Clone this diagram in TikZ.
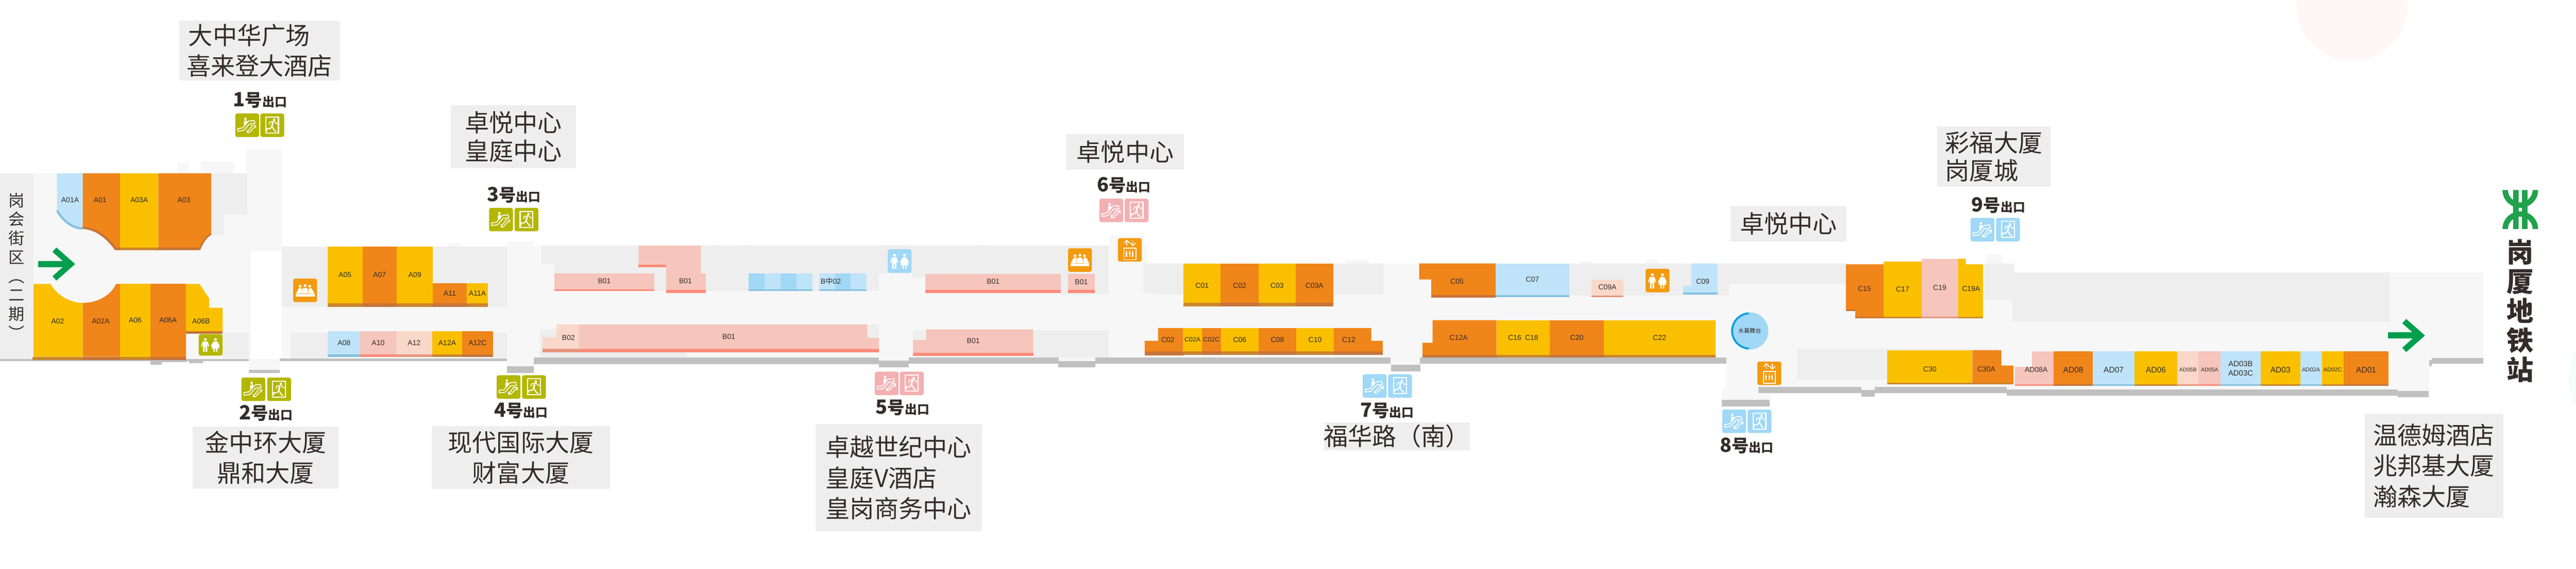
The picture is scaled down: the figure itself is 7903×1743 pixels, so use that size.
\documentclass[tikz,border=0pt]{standalone}
\usepackage{fontspec}
\setmainfont{Noto Sans CJK SC}
\newfontfamily\latinfont{Liberation Sans}
\newfontfamily\heavyfont{Noto Sans CJK SC Black}
\usetikzlibrary{calc}

\definecolor{inkdark}{HTML}{332C2B}
\definecolor{hallgrey}{HTML}{F7F7F7}
\definecolor{zonegrey}{HTML}{EEEEEE}
\definecolor{wallgrey}{HTML}{BFC0BF}
\definecolor{shoporange}{HTML}{F0851A}
\definecolor{shopyellow}{HTML}{FAC000}
\definecolor{shopblue}{HTML}{BFE4F9}
\definecolor{shopmid}{HTML}{A0D8F6}
\definecolor{shoppink}{HTML}{F6C5BC}
\definecolor{shoplight}{HTML}{FAD8C9}
\definecolor{striporange}{HTML}{C6743A}
\definecolor{stripyellow}{HTML}{C9862F}
\definecolor{stripblue}{HTML}{85C2DF}
\definecolor{strippink}{HTML}{FD8A78}
\definecolor{striplight}{HTML}{E8957F}
\definecolor{icongreen}{HTML}{B3B700}
\definecolor{iconpink}{HTML}{F3B0B2}
\definecolor{iconblue}{HTML}{A0D8F6}
\definecolor{iconorange}{HTML}{F39A0F}
\definecolor{arrowgreen}{HTML}{009F4D}
\definecolor{logogreen}{HTML}{22A14D}
\definecolor{ringblue}{HTML}{0FA0E0}

\tikzset{
    glyphline/.style={white, line width=0.026cm, line join=round},
    pics/esc glyph/.style={code={
        \fill[white] (32,17) circle[radius=3.8];
        \fill[white] (28,23) -- (36,22) -- (37,32) -- (31,38) -- (27,33) -- cycle;
        \draw[glyphline] (8,47) -- (23,45) -- (41,24) -- (59,22) -- (61,32) -- (44,33) -- (26,53) -- (9,55) -- cycle;
        \draw[glyphline] (54,36) -- (37,59);
        \draw[glyphline] (37,50) -- (37,59) -- (46,59);
        \draw[glyphline] (46,57) -- (64,38);
        \draw[glyphline] (55,38) -- (64,38) -- (64,47);
    }},
    pics/door glyph/.style={code={
        \draw[white, line width=0.036cm] (17.5,11.5) rectangle (56.5,60.5);
        \fill[white] (43,20) circle[radius=3.8];
        \draw[glyphline] (28,35) -- (30,27) -- (43,25) -- (51,32) -- (56,32);
        \draw[white, line width=0.05cm] (39,27) -- (36,42);
        \draw[glyphline, line width=0.034cm] (36,41) -- (46,55) -- (50,55);
        \draw[glyphline, line width=0.034cm] (35,42) -- (31,47) -- (21,47);
        \fill[white] (18,47) -- (24,47) -- (22,54) -- (18,54) -- cycle;
    }},
    pics/toilet glyph/.style={code={
        \fill[white] (21,19) circle[radius=4.6];
        \fill[white] (13,26) -- (28,26) -- (33,42) -- (30,43) -- (27,34) -- (27,61) -- (22,61) -- (22,45) -- (19,45) -- (19,61) -- (14,61) -- (14,34) -- (11,43) -- (8,42) -- cycle;
        \fill[white] (52,19) circle[radius=4.6];
        \fill[white] (46,26) -- (58,26) -- (66,42) -- (63,43) -- (59,33) -- (64,50) -- (58,50) -- (58,61) -- (54,61) -- (54,50) -- (50,50) -- (50,61) -- (46,61) -- (46,50) -- (40,50) -- (45,33) -- (41,43) -- (38,42) -- cycle;
    }},
    pics/wait glyph/.style={code={
        \fill[white] (9,48) rectangle (66,56);
        \fill[white] (22,24) circle[radius=4.4] (37,22) circle[radius=4.4] (51,24) circle[radius=4.4];
        \fill[white] (9,47) -- (17,31) -- (27,30) -- (30,47) -- cycle;
        \fill[white] (46,47) -- (48,31) -- (57,30) -- (66,47) -- cycle;
        \fill[white, draw=iconorange, line width=0.008cm] (25,47) -- (30,29) -- (44,29) -- (49,47) -- cycle;
    }},
    pics/lift glyph/.style={code={
        \draw[glyphline] (19,31) rectangle (56,67);
        \foreach \px in {27,37,46} {
            \fill[white] (\px,40) circle[radius=1.9];
            \fill[white] (\px-2.5,43) rectangle (\px+2.5,50);
            \fill[white] (\px-2,50) rectangle (\px+2,58);
        }
        \draw[glyphline] (28,24) -- (28,7);
        \draw[glyphline] (20,16) -- (28,7) -- (36,16);
        \draw[glyphline] (46,7) -- (46,24);
        \draw[glyphline] (38,15) -- (46,24) -- (55,15);
    }},
    pics/way arrow/.style={code={
        \draw[arrowgreen, line width=0.19cm] (0,0) -- (96,0);
        \draw[arrowgreen, line width=0.18cm, miter limit=4] (50,-44) -- (100,0) -- (50,44);
    }}
}

% shop block: name, left, top, right, bottom, strip end, kind, text
\newcommand{\shoprect}[9][]{
    \fill[#8 strip] (#3,#6) rectangle (#5,#7);
    \fill[#8 shop] (#3,#4) rectangle (#5,#6);
    \node[shoplabel, #1] (#2) at ({(#3+#5)/2},{(#4+#6)/2}) {#9};
}

\begin{document}
\begin{tikzpicture}[
    x=0.01cm, y=-0.01cm,
    % Styles
    orange shop/.style={fill=shoporange},
    yellow shop/.style={fill=shopyellow},
    blue shop/.style={fill=shopblue},
    mid shop/.style={fill=shopmid},
    pink shop/.style={fill=shoppink},
    light shop/.style={fill=shoplight},
    orange strip/.style={fill=striporange},
    yellow strip/.style={fill=stripyellow},
    blue strip/.style={fill=stripblue},
    mid strip/.style={fill=stripblue},
    pink strip/.style={fill=strippink},
    light strip/.style={fill=striplight},
    shoplabel/.style={font=\latinfont\fontsize{6.3}{7.6}\selectfont, text=inkdark, inner sep=0pt, align=center},
    placebox/.style={fill=zonegrey, text=inkdark, inner sep=0pt, font=\fontsize{21.2}{26.7}\selectfont},
    tightbox/.style={placebox, font=\fontsize{21.2}{24.3}\selectfont},
    iconbox/.style={anchor=north west, minimum width=0.73cm, minimum height=0.72cm, inner sep=0pt, rounded corners=0.06cm},
    exitlabel/.style={text=inkdark, inner sep=0pt, font=\bfseries\fontsize{15}{15}\selectfont}
]
    \useasboundingbox (0,0) rectangle (7903,1743);

    % Faint circles at the edge
    \fill[red!3] (7216,15) circle[radius=171];
    \fill[cyan!4] (8050,1160) circle[radius=170];

    % Walkable floor
    \foreach \xa/\ya/\xb/\yb in {102/531/770/1100, 756/458/865/770, 865/756/1555/1100, 764/1100/858/1134,
        1555/739/1638/1122, 1638/753/3404/1096, 3404/723/3511/1096, 3511/753/3518/807, 3508/807/5296/1096,
        2697/1096/2788/1105, 3247/1096/3360/1106, 4266/1095/4356/1118,
        5296/808/6180/1195, 6180/834/7452/1198, 7452/834/7619/1097, 5283/1187/5430/1225,
        543/500/579/531, 617/495/717/531, 1372/745/1411/755, 2184/749/2223/753, 2274/749/2302/753,
        2705/749/2744/753, 2747/749/2791/753, 2988/749/3026/753, 4125/796/4199/808,
        4845/801/4884/808, 5047/795/5089/808, 6091/779/6142/808}
        \fill[hallgrey] (\xa,\ya) rectangle (\xb,\yb);

    % Side zones
    \foreach \xa/\ya/\xb/\yb in {0/531/102/1100, 648/531/759/658, 648/658/687/720, 865/756/1555/940,
        683/1019/764/1098, 891/1020/1006/1098, 1512/1019/1555/1097,
        1661/753/1700/809, 1700/753/2697/891, 2697/753/2839/838, 2798/838/2839/850, 2839/753/3255/891, 3255/753/3402/902,
        1657/1009/2109/1095, 2661/994/2697/1035, 2801/1012/2841/1042, 3170/1012/3401/1095,
        3508/807/3631/897, 3544/897/3631/902, 4090/807/4246/902, 4814/808/5305/906,
        5269/808/5663/869, 5513/1068/6132/1164,
        6087/808/6180/919, 6174/834/7332/984}
        \fill[zonegrey] (\xa,\ya) rectangle (\xb,\yb);

    % Walls along the bottom edge
    \foreach \xa/\ya/\xb/\yb in {0/1100/764/1106, 858/1098/1555/1106, 764/1134/858/1143, 462/1106/497/1117, 497/1103/572/1110, 580/1100/623/1112,
        1555/1122/1638/1142, 1638/1096/2697/1116, 2697/1105/2788/1126, 2788/1096/3248/1115, 3247/1106/3360/1126, 3360/1095/4266/1115,
        4267/1118/4357/1138, 4356/1095/5296/1114, 5283/1225/5430/1245, 5395/1185/5710/1204, 5710/1195/5751/1215,
        5751/1185/6156/1204, 6156/1193/7356/1213, 7356/1198/7451/1217, 7452/1104/7460/1123, 7460/1097/7618/1115}
        \fill[wallgrey] (\xa,\ya) rectangle (\xb,\yb);

    % A shops, upper block
    \fill[blue shop] (175,531) -- (254,531) -- (254,700) .. controls (225,700) and (195,680) .. (175,645) -- cycle;
    \draw[stripblue, line width=0.07cm] (175,645) .. controls (195,680) and (225,700) .. (254,700);
    \node[shoplabel] (A01A) at (215,613) {A01A};
    \fill[orange shop] (254,531) -- (368,531) -- (368,767) -- (356,765) .. controls (335,735) and (300,700) .. (254,698) -- cycle;
    \draw[striporange, line width=0.07cm] (356,765) .. controls (335,735) and (300,700) .. (254,698);
    \node[shoplabel] (A01) at (307,613) {A01};
    \fill[orange strip] (356,758) rectangle (368,767);
    \shoprect[yshift=0.32cm]{A03Aa}{368}{531}{486}{758}{767}{yellow}{A03A}
    \fill[orange shop] (486,531) -- (648,531) -- (648,717) .. controls (632,725) and (620,745) .. (612,765) -- (486,767) -- cycle;
    \draw[striporange, line width=0.05cm] (648,717) .. controls (632,725) and (620,745) .. (612,765);
    \fill[orange strip] (486,758) rectangle (612,767);
    \node[shoplabel] (A03) at (564,613) {A03};

    % A shops, lower block
    \fill[yellow strip] (100,1093) rectangle (254,1103);
    \fill[yellow shop] (103,870) -- (155,870) .. controls (175,905) and (215,928) .. (254,928) -- (254,1093) -- (103,1093) -- cycle;
    \node[shoplabel] (A02) at (177,984) {A02};
    \fill[orange strip] (254,1093) rectangle (369,1103);
    \fill[orange shop] (254,928) .. controls (300,928) and (340,905) .. (356,870) -- (369,870) -- (369,1093) -- (254,1093) -- cycle;
    \node[shoplabel] (A02A) at (309,984) {A02A};
    \shoprect{A06}{369}{870}{461}{1093}{1103}{yellow}{A06}
    \shoprect{A06A}{461}{870}{570}{1093}{1103}{orange}{A06A}
    \fill[orange strip] (570,1015) rectangle (683,1023);
    \fill[yellow shop] (570,870) -- (612,870) -- (642,915) -- (642,943) -- (683,943) -- (683,1015) -- (570,1015) -- cycle;
    \node[shoplabel] (A06B) at (617,984) {A06B};

    % A shops, after exit 1 and 2
    \foreach \n/\xa/\ya/\xb/\kind in {A05/1005/755/1112/yellow, A07/1112/755/1217/orange, A09/1217/755/1328/yellow, A11/1328/867/1432/orange, A11A/1432/867/1497/yellow}
        \shoprect{\n}{\xa}{\ya}{\xb}{930}{940}{\kind}{\n};
    \foreach \n/\xa/\xb/\kind in {A08/1006/1105/blue, A10/1105/1215/pink, A12/1215/1326/light, A12A/1326/1418/yellow, A12C/1418/1512/orange}
        \shoprect{\n}{\xa}{1015}{\xb}{1086}{1093}{\kind}{\n};

    % B shops
    \shoprect{B01a}{1700}{837}{2008}{886}{892}{pink}{B01}
    \fill[pink strip] (1959,811) rectangle (2044,819);
    \fill[pink strip] (2044,888) rectangle (2165,898);
    \fill[pink shop] (1959,752) -- (2150,752) -- (2150,838) -- (2165,838) -- (2165,888) -- (2044,888) -- (2044,811) -- (1959,811) -- cycle;
    \node[shoplabel] (B01b) at (2103,861) {B01};
    \foreach \n/\xa/\xb/\kind in {m1/2297/2345/mid, m2/2345/2394/blue, m3/2394/2443/mid, m4/2443/2492/blue, m5/2513/2562/blue, m6/2562/2610/mid, m7/2610/2659/blue}
        \shoprect{\n}{\xa}{837}{\xb}{886}{891}{\kind}{};
    \node[shoplabel] (Bmid) at (2549,862) {B{\rmfamily 中}02};
    \shoprect[xshift=0cm]{B01c}{2839}{839}{3255}{888}{898}{pink}{}
    \node[shoplabel] (B01d) at (3047,862) {B01};
    \shoprect{B01e}{3276}{839}{3359}{888}{898}{pink}{B01}
    \fill[light strip] (1664,1068) rectangle (1776,1079);
    \fill[light shop] (1664,1034) -- (1707,1034) -- (1707,994) -- (1776,994) -- (1776,1068) -- (1664,1068) -- cycle;
    \node[shoplabel] (B02) at (1744,1035) {B02};
    \fill[pink strip] (1776,1069) rectangle (2697,1079);
    \fill[pink shop] (1776,994) -- (2661,994) -- (2661,1035) -- (2697,1035) -- (2697,1069) -- (1776,1069) -- cycle;
    \node[shoplabel] (B01f) at (2236,1031) {B01};
    \fill[pink strip] (2801,1081) rectangle (3170,1091);
    \fill[pink shop] (2801,1042) -- (2841,1042) -- (2841,1009) -- (3170,1009) -- (3170,1081) -- (2801,1081) -- cycle;
    \node[shoplabel] (B01g) at (2986,1044) {B01};

    % C shops, first stretch
    \foreach \n/\xa/\xb/\kind in {C01/3631/3745/yellow, C02/3745/3861/orange, C03/3861/3975/yellow, C03A/3975/4090/orange}
        \shoprect[yshift=-0.07cm]{\n}{\xa}{808}{\xb}{928}{939}{\kind}{\n};
    \fill[orange strip] (3512,1077) rectangle (3630,1089);
    \fill[orange shop] (3512,1044) -- (3553,1044) -- (3553,1005) -- (3630,1005) -- (3630,1077) -- (3512,1077) -- cycle;
    \node[shoplabel] (C02b) at (3583,1041) {C02};
    \shoprect[font=\latinfont\fontsize{5.6}{7}\selectfont]{C02A}{3630}{1005}{3687}{1077}{1088}{yellow}{C02A}
    \shoprect[font=\latinfont\fontsize{5.6}{7}\selectfont]{C02C}{3687}{1005}{3746}{1077}{1088}{orange}{C02C}
    \foreach \n/\xa/\xb/\kind in {C06/3746/3861/yellow, C08/3861/3977/orange, C10/3977/4092/yellow}
        \shoprect{\n}{\xa}{1005}{\xb}{1077}{1088}{\kind}{\n};
    \fill[orange strip] (4092,1077) rectangle (4242,1088);
    \fill[orange shop] (4092,1005) -- (4207,1005) -- (4207,1044) -- (4242,1044) -- (4242,1077) -- (4092,1077) -- cycle;
    \node[shoplabel] (C12) at (4138,1041) {C12};

    % C shops, second stretch
    \fill[orange strip] (4391,904) rectangle (4589,912);
    \fill[orange shop] (4354,807) -- (4589,807) -- (4589,904) -- (4391,904) -- (4391,856) -- (4354,856) -- cycle;
    \node[shoplabel] (C05) at (4470,862) {C05};
    \shoprect{C07}{4589}{808}{4814}{904}{911}{blue}{C07}
    \shoprect{C09A}{4883}{856}{4980}{905}{911}{light}{C09A}
    \fill[blue strip] (5164,896) rectangle (5269,902);
    \fill[blue shop] (5189,807) -- (5269,807) -- (5269,896) -- (5164,896) -- (5164,876) -- (5189,876) -- cycle;
    \node[shoplabel] (C09) at (5224,862) {C09};
    \fill[orange strip] (4364,1088) rectangle (4591,1096);
    \fill[orange shop] (4395,981) -- (4591,981) -- (4591,1088) -- (4364,1088) -- (4364,1050) -- (4395,1050) -- cycle;
    \node[shoplabel] (C12A) at (4475,1034) {C12A};
    \shoprect{C16}{4591}{981}{4755}{1088}{1096}{yellow}{C16\enspace C18}
    \shoprect{C20}{4755}{981}{4920}{1088}{1096}{orange}{C20}
    \shoprect{C22}{4920}{981}{5263}{1088}{1096}{yellow}{C22}

    % C shops, third stretch
    \fill[orange strip] (5663,948) rectangle (5692,953);
    \fill[orange strip] (5692,971) rectangle (5779,976);
    \fill[orange shop] (5663,810) -- (5779,810) -- (5779,971) -- (5692,971) -- (5692,948) -- (5663,948) -- cycle;
    \node[shoplabel] (C15) at (5720,885) {C15};
    \shoprect{C17}{5779}{801}{5895}{971}{976}{yellow}{C17}
    \shoprect{C19}{5895}{793}{6007}{971}{976}{pink}{C19}
    \fill[light strip] (5895,971) rectangle (6007,976);
    \fill[yellow strip] (6007,971) rectangle (6084,976);
    \fill[yellow shop] (6007,793) -- (6031,793) -- (6031,810) -- (6084,810) -- (6084,971) -- (6007,971) -- cycle;
    \node[shoplabel] (C19A) at (6047,885) {C19A};
    \shoprect[yshift=-0.08cm]{C30}{5790}{1073}{6051}{1173}{1178}{yellow}{C30}
    \fill[yellow strip] (6051,1173) rectangle (6177,1178);
    \fill[orange shop] (6051,1073) -- (6140,1073) -- (6140,1120) -- (6177,1120) -- (6177,1173) -- (6051,1173) -- cycle;
    \node[shoplabel] (C30A) at (6094,1131) {C30A};

    % AD shops
    \fill[pink strip] (6181,1177) rectangle (6300,1182);
    \fill[pink shop] (6181,1124) -- (6234,1124) -- (6234,1077) -- (6300,1077) -- (6300,1177) -- (6181,1177) -- cycle;
    \node[shoplabel] (AD08A) at (6247,1133) {AD08A};
    \foreach \n/\xa/\xb/\kind/\sz in {AD08/6300/6421/orange/7, AD07/6421/6548/blue/7, AD06/6548/6680/yellow/7, AD05B/6680/6745/light/4.8, AD05A/6745/6813/pink/4.8,
        AD03/6935/7057/yellow/7, AD02A/7057/7123/blue/5, AD02C/7123/7190/yellow/5, AD01/7190/7328/orange/7}
        \shoprect[yshift=-0.06cm, font=\latinfont\fontsize{\sz}{8}\selectfont]{\n}{\xa}{1077}{\xb}{1177}{1182}{\kind}{\n};
    \shoprect[font=\latinfont\fontsize{6.7}{8}\selectfont, yshift=-0.02cm]{AD03B}{6813}{1077}{6935}{1177}{1182}{blue}{AD03B\\AD03C}

    % Water stage
    \node[circle, fill=shopmid, minimum size=1.14cm, inner sep=0pt, text=inkdark, font=\fontsize{5}{6}\selectfont] (stage) at (5368,1014) {水幕舞台};
    \draw[ringblue, line width=0.06cm] (5368,1014) ++(267:54) arc[start angle=267, end angle=93, radius=54];

    % Service icons
    \node[iconbox, fill=iconorange] (wait1) at (899,853) {};
    \pic at (899,853) {wait glyph};
    \node[iconbox, fill=iconorange] (wait2) at (3276,760) {};
    \pic at (3276,760) {wait glyph};
    \node[iconbox, fill=iconorange] (lift1) at (3429,729) {};
    \pic at (3429,729) {lift glyph};
    \node[iconbox, fill=iconorange] (lift2) at (5391,1107) {};
    \pic at (5391,1107) {lift glyph};
    \node[iconbox, fill=icongreen, minimum height=0.66cm] (wc1) at (609,1023) {};
    \pic[yscale=0.9] at (609,1023) {toilet glyph};
    \node[iconbox, fill=iconblue] (wc2) at (2723,763) {};
    \pic at (2723,763) {toilet glyph};
    \node[iconbox, fill=iconorange] (wc3) at (5048,823) {};
    \pic at (5048,823) {toilet glyph};

    % Exits
    \foreach \n/\tx/\ty/\ia/\ib/\iy/\col in {1/798/307/721/798/347/icongreen, 2/816/1266/740/819/1156/icongreen, 3/1576/597/1500/1578/636/icongreen,
        4/1598/1259/1523/1601/1149/icongreen, 5/2769/1249/2683/2760/1138/iconpink, 6/3448/568/3372/3450/608/iconpink,
        7/4255/1258/4180/4258/1146/iconblue, 8/5359/1365/5283/5361/1254/iconblue, 9/6131/629/6045/6123/667/iconblue} {
        \node[iconbox, fill=\col] (esc\n) at (\ia,\iy) {};
        \pic at (\ia,\iy) {esc glyph};
        \node[iconbox, fill=\col] (door\n) at (\ib,\iy) {};
        \pic at (\ib,\iy) {door glyph};
        \node[exitlabel] (exit\n) at (\tx,\ty) {{\fontsize{17}{17}\selectfont\n}号{\fontsize{10.7}{11}\selectfont 出口}};
    }

    % Nearby places
    \node[placebox, align=left, minimum width=4.93cm, minimum height=1.84cm] (place1) at (796,155) {\hspace*{0.06cm}大中华广场\\喜来登大酒店};
    \node[placebox, align=center, minimum width=4.46cm, minimum height=1.91cm] (place2) at (815,1402) {金中环大厦\\鼎和大厦};
    \node[tightbox, align=center, minimum width=3.85cm, minimum height=1.92cm] (place3) at (1575,419) {卓悦中心\\皇庭中心};
    \node[placebox, align=center, minimum width=5.47cm, minimum height=1.92cm] (place4) at (1598,1402) {现代国际大厦\\财富大厦};
    \node[placebox, align=left, minimum width=5.11cm, minimum height=3.29cm] (place5) at (2757,1464) {卓越世纪中心\\皇庭V酒店\\皇岗商务中心};
    \node[placebox, minimum width=3.60cm, minimum height=1.09cm] (place6) at (3452,465) {卓悦中心};
    \node[placebox, minimum width=4.35cm, minimum height=0.86cm] (place7) at (4285,1337) {福华路（南）};
    \node[placebox, minimum width=3.56cm, minimum height=1.08cm] (place8) at (5487,685) {卓悦中心};
    \node[tightbox, align=left, minimum width=3.47cm, minimum height=1.85cm] (place9) at (6117,480) {彩福大厦\\岗厦城};
    \node[placebox, align=left, minimum width=4.25cm, minimum height=3.20cm] (place10) at (7467,1427) {温德姆酒店\\兆邦基大厦\\瀚森大厦};

    % Street and station names
    \node[text=inkdark, inner sep=0pt, align=center, font=\fontsize{14}{16.5}\selectfont] (street) at (50,815) {岗\\会\\街\\区\\︵\\二\\期\\︶};
    \node[text=inkdark, inner sep=0pt, align=center, font=\heavyfont\fontsize{23.5}{25.6}\selectfont] (station) at (7731,953) {岗\\厦\\地\\铁\\站};

    % Walking direction
    \pic at (117,809) {way arrow};
    \pic at (7326,1028) {way arrow};

    % Metro logo
    \begin{scope}[shift={(7732,642)}]
        \foreach \sx in {-1,1} \foreach \sy in {-1,1}
            \fill[logogreen, xscale=\sx, yscale=\sy] (-54.7,-59.7) .. controls (-54.7,-35) and (-39,-17) .. (-22,-10.3) -- (-22,-29.3) .. controls (-30,-35) and (-37.7,-45) .. (-37.7,-59.7) -- cycle;
        \fill[logogreen] (-22,-59.7) rectangle (-5.3,59.7) (5.3,-59.7) rectangle (22,59.7);
        \fill[logogreen, even odd rule] (-22,-22) rectangle (22,21.5) (-5.3,-5.3) rectangle (5.3,5.3);
    \end{scope}
\end{tikzpicture}
\end{document}
